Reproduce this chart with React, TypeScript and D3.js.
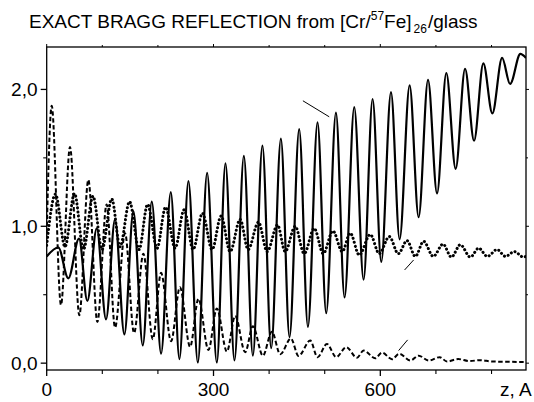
import React from 'react';
import * as d3 from 'd3';

// Solid curve: extrema [z (Å), value]
const solidSeries: [number, number][] = [
  [0, 0.78], [20.9, 0.845], [38.9, 0.62], [58.1, 0.91], [73.1, 0.455], [90, 0.985],
  [106.7, 0.32], [122.9, 1.05], [139.7, 0.21], [155.9, 1.11], [172.8, 0.13], [189, 1.18],
  [205.7, 0.07], [223.2, 1.25], [238.7, 0.03], [254.9, 1.33], [271.8, 0.005], [288.5, 1.39],
  [306, 0.005], [321.5, 1.46], [337.7, 0.02], [354.6, 1.515], [370.8, 0.055], [388, 1.59],
  [403.7, 0.11], [421.2, 1.64], [436.7, 0.19], [454.1, 1.71], [469.8, 0.265], [487.1, 1.76],
  [502.7, 0.365], [520.2, 1.83], [535.7, 0.48], [553.1, 1.87], [569.9, 0.61], [586.1, 1.93],
  [601.7, 0.74], [619.2, 1.98], [634.7, 0.905], [652.7, 2.03], [668.9, 1.066], [685.8, 2.07],
  [702, 1.24], [718.7, 2.12], [735.5, 1.42], [752.4, 2.15], [768.6, 1.625], [785.3, 2.19],
  [801.5, 1.825], [819, 2.23], [833.4, 2.04], [851.9, 2.26], [862, 2.23],
];

// Dashed curve
const dashedSeries: [number, number][] = [
  [0, 0.95], [9, 1.88], [25.7, 0.425], [41.9, 1.58], [58.7, 0.35], [74.9, 1.34],
  [91.1, 0.3], [107.8, 1.16], [122.9, 0.26], [140.9, 0.95], [157.1, 0.22], [173.9, 0.8],
  [190.8, 0.175], [205.7, 0.66], [223.7, 0.16], [239.6, 0.555], [257.9, 0.12], [272.9, 0.47],
  [290.9, 0.097], [306, 0.4], [324, 0.085], [339, 0.345], [357, 0.08], [370.8, 0.27],
  [388.8, 0.055], [405, 0.23], [420, 0.065], [439.2, 0.18], [452.9, 0.053], [474, 0.165],
  [487, 0.044], [504, 0.14], [520.7, 0.044], [538.7, 0.117], [558, 0.04], [569.9, 0.092],
  [591, 0.036], [603, 0.077], [621, 0.029], [634, 0.068], [654, 0.019], [669, 0.055],
  [687, 0.019], [706.7, 0.044], [720, 0.012], [740, 0.03], [760, 0.015], [780, 0.022],
  [800, 0.012], [830, 0.01], [862, 0.008],
];

// Dotted curve
const dottedSeries: [number, number][] = [
  [0, 0.86], [15.8, 1.235], [32.9, 0.85], [50, 1.24], [66.2, 0.83], [83.3, 1.22],
  [99.5, 0.83], [117, 1.2], [131.9, 0.85], [149, 1.18], [166.1, 0.83], [181.4, 1.16],
  [198.5, 0.84], [213.8, 1.14], [230.9, 0.84], [247.1, 1.12], [263.3, 0.83], [280.1, 1.095],
  [297.5, 0.83], [313.7, 1.075], [329.9, 0.815], [347.9, 1.05], [362.3, 0.83], [380.9, 1.03],
  [396.5, 0.815], [415.1, 1.01], [428.9, 0.815], [446.9, 1.0], [463.1, 0.8], [481.1, 0.985],
  [497.3, 0.8], [514.8, 0.966], [531.5, 0.815], [545.9, 0.95], [562.1, 0.79], [581.9, 0.94],
  [598.1, 0.8], [616.1, 0.925], [632.3, 0.8], [648, 0.895], [662.9, 0.78], [677.9, 0.89],
  [695.3, 0.78], [712.8, 0.87], [727.7, 0.775], [743.9, 0.865], [761.9, 0.775], [776.9, 0.84],
  [792.5, 0.78], [810, 0.83], [824.9, 0.78], [841.1, 0.815], [857.3, 0.775], [862, 0.78],
];

const xMajorTicks = [0, 300, 600];
const xMajorLabels = ['0', '300', '600'];
const xMinorTicks = [100, 200, 400, 500, 700, 800];
const yMajorTicks = [0, 1, 2];
const yMajorLabels = ['0,0', '1,0', '2,0'];
const yMinorTicks = [0.5, 1.5];
const xAxisTitle = 'z, A';

// small leader lines in data coordinates
const leaderLines: [number, number][][] = [
  [[460.8, 1.917], [508.1, 1.8]],
  [[643.7, 0.681], [659.9, 0.754]],
  [[632.9, 0.092], [649.1, 0.17]],
];

const FONT = '"Liberation Sans", Arial, Helvetica, sans-serif';

export default function App() {
  const W = 534;
  const H = 402;
  const x = d3.scaleLinear().domain([0, 862]).range([46.7, 526]);
  const y = d3.scaleLinear().domain([-0.05, 2.31]).range([370, 47]);
  const line = d3
    .line<[number, number]>()
    .x((d) => x(d[0]))
    .y((d) => y(d[1]))
    .curve(d3.curveMonotoneX);
  const straight = d3
    .line<[number, number]>()
    .x((d) => x(d[0]))
    .y((d) => y(d[1]));

  const [x0, x1] = x.range();
  const [yb, yt] = y.range();

  return (
    <svg
      width={W}
      height={H}
      viewBox={`0 0 ${W} ${H}`}
      style={{ position: 'absolute', left: 0, top: 0, background: '#fff' }}
    >
      <defs>
        <clipPath id="plotclip">
          <rect x={x0} y={yt} width={x1 - x0} height={yb - yt} />
        </clipPath>
      </defs>
      <rect x={0} y={0} width={W} height={H} fill="#fff" />
      <text x={29} y={28} textAnchor="start" fontFamily={FONT} fontSize={19} fill="#000">
        EXACT BRAGG REFLECTION from [Cr/
        <tspan fontSize={12} dy={-8}>57</tspan>
        <tspan dy={8}>Fe]</tspan>
        <tspan fontSize={12} dy={5} dx={2}>26</tspan>
        <tspan dy={-5} dx={1}>/glass</tspan>
      </text>

      <g clipPath="url(#plotclip)" fill="none" stroke="#000">
        <path d={line(dashedSeries) || ''} strokeWidth={2} strokeDasharray="4.5 2.5" />
        <path
          d={line(dottedSeries) || ''}
          strokeWidth={3}
          strokeDasharray="0.1 3.9"
          strokeLinecap="round"
        />
        <path d={line(solidSeries) || ''} strokeWidth={2.2} />
      </g>

      {leaderLines.map((l, i) => (
        <path key={i} d={straight(l) || ''} stroke="#000" strokeWidth={1} fill="none" />
      ))}

      {/* frame */}
      <rect x={x0} y={yt} width={x1 - x0} height={yb - yt} fill="none" stroke="#000" strokeWidth={1.3} />

      {/* bottom & top ticks */}
      {xMajorTicks.map((t) => (
        <g key={'xm' + t}>
          <line x1={x(t)} x2={x(t)} y1={yb} y2={yb + 6} stroke="#000" strokeWidth={1.3} />
          <line x1={x(t)} x2={x(t)} y1={yt} y2={yt - 3} stroke="#000" strokeWidth={1} />
        </g>
      ))}
      {xMinorTicks.map((t) => (
        <g key={'xn' + t}>
          <line x1={x(t)} x2={x(t)} y1={yb} y2={yb + 4} stroke="#000" strokeWidth={1.1} />
          <line x1={x(t)} x2={x(t)} y1={yt} y2={yt - 2} stroke="#000" strokeWidth={1} />
        </g>
      ))}
      {xMajorTicks.map((t, i) => (
        <text
          key={'xl' + t}
          x={x(t)}
          y={396}
          textAnchor="middle"
          fontFamily={FONT}
          fontSize={19}
          fill="#000"
        >
          {xMajorLabels[i]}
        </text>
      ))}
      <text x={500} y={396} fontFamily={FONT} fontSize={19} fill="#000">
        {xAxisTitle}
      </text>

      {/* left & right ticks */}
      {yMajorTicks.map((t) => (
        <g key={'ym' + t}>
          <line x1={x0} x2={x0 - 6} y1={y(t)} y2={y(t)} stroke="#000" strokeWidth={1.3} />
          <line x1={x1} x2={x1 + 3} y1={y(t)} y2={y(t)} stroke="#000" strokeWidth={1} />
        </g>
      ))}
      {yMinorTicks.map((t) => (
        <g key={'yn' + t}>
          <line x1={x0} x2={x0 - 3.5} y1={y(t)} y2={y(t)} stroke="#000" strokeWidth={1.1} />
          <line x1={x1} x2={x1 + 2} y1={y(t)} y2={y(t)} stroke="#000" strokeWidth={1} />
        </g>
      ))}
      {yMajorTicks.map((t, i) => (
        <text
          key={'yl' + t}
          x={37.5}
          y={y(t) + 6.7}
          textAnchor="end"
          fontFamily={FONT}
          fontSize={19}
          fill="#000"
        >
          {yMajorLabels[i]}
        </text>
      ))}
    </svg>
  );
}
